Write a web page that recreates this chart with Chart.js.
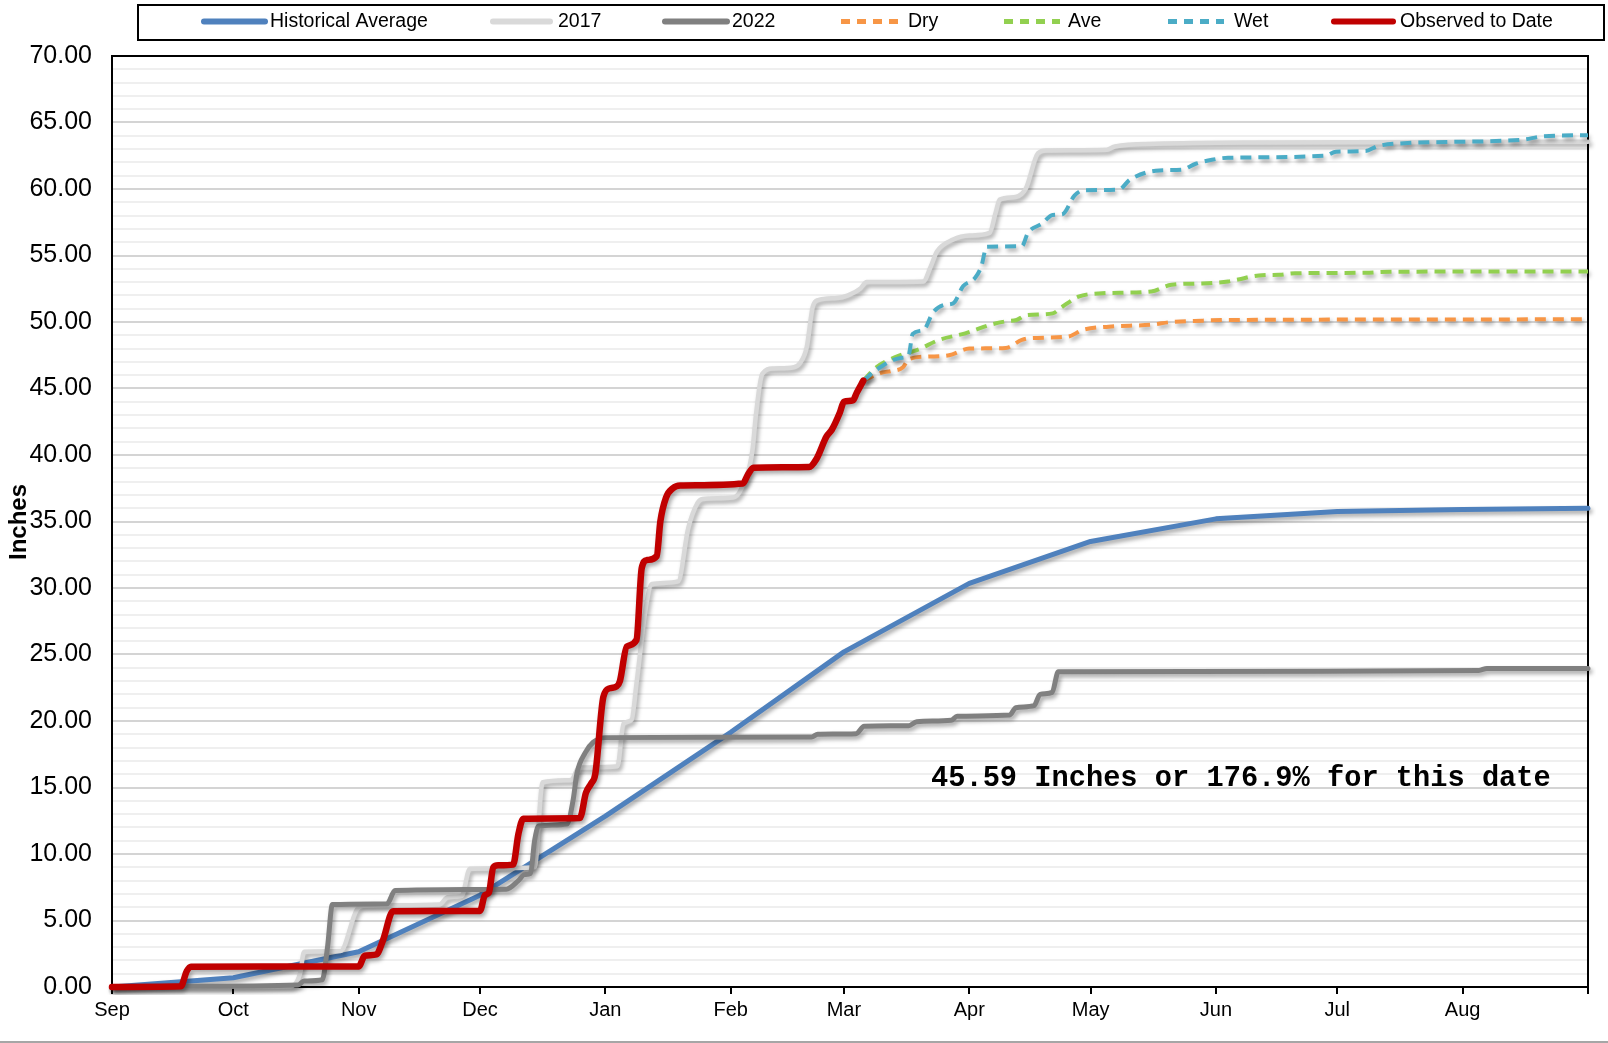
<!DOCTYPE html>
<html>
<head>
<meta charset="utf-8">
<script src="https://cdn.jsdelivr.net/npm/chart.js@4.4.1/dist/chart.umd.min.js"></script>
<style>
html,body{margin:0;padding:0;background:#fff;overflow:hidden}
canvas{display:block}
</style>
</head>
<body>
<canvas id="c" width="1608" height="1043"></canvas>
<script>
// ---- axis categories / tick labels (day of water year, Sep 1 = 0) ----
const monthStarts = [0,30,61,91,122,153,181,212,242,273,303,334,365];
const monthLabels = ['Sep','Oct','Nov','Dec','Jan','Feb','Mar','Apr','May','Jun','Jul','Aug',''];

// ---- series values: [day, cumulative inches] ----
const histAverage = [[0,0],[30,0.7],[61,2.65],[91,6.9],[122,12.85],[153,19.15],[181,25.2],[212,30.35],[242,33.5],[273,35.2],[303,35.75],[334,35.9],[365,36.0]];

const season2017 = [[0,0],[44,0.05],[46.5,1.0],[47.5,2.65],[56.5,2.7],[60.5,5.8],[62,6.1],[81,6.2],[83,6.75],[86.5,6.85],[88.5,8.9],[104.5,9.0],[106.5,15.4],[113.5,15.55],[115.5,16.5],[125,16.6],[126.5,19.8],[128.5,20.1],[129.7,22.8],[132,28.5],[133.5,30.3],[140,30.5],[142.5,34.5],[144.8,36.4],[146,36.7],[153.5,36.8],[155.5,37.4],[158.4,40.4],[159.2,42.9],[160.8,46.1],[163.5,46.5],[168.6,46.6],[170.1,46.9],[171.8,48.1],[173.3,51.15],[174.6,51.65],[179.3,51.8],[182,52.0],[185,52.5],[186.6,53.0],[200.6,53.05],[202.5,54.2],[204,55.3],[208,56.2],[212,56.5],[217,56.7],[218.5,58.2],[219.5,59.2],[223.4,59.4],[226,60.05],[229,62.7],[231,62.9],[246,62.95],[248,63.2],[258,63.4],[282,63.5],[365,63.55]];

const season2022 = [[0,0],[18,0.05],[46,0.15],[47.5,0.45],[52,0.55],[53.3,3.0],[54.5,6.2],[68,6.25],[70,7.25],[97.5,7.35],[100.5,8.0],[102,8.45],[103.5,8.55],[104.5,11.0],[105.5,12.1],[112.5,12.25],[114,14.0],[115,16.1],[117,17.6],[119,18.4],[122,18.75],[173,18.8],[174.5,19.0],[184,19.05],[186,19.6],[197,19.65],[199,19.95],[207.5,20.05],[209,20.35],[222,20.45],[223.5,21.0],[228,21.15],[229.5,22.0],[232.5,22.15],[234,23.7],[300,23.75],[338,23.8],[340,23.95],[365,23.95]];

const dryScenario = [[185.8,45.59],[190.5,46.2],[192.5,46.3],[195.6,46.6],[197,47.2],[202,47.4],[207,47.5],[212,48.0],[221,48.05],[225,48.65],[227.5,48.8],[236.4,48.9],[240,49.4],[246.5,49.65],[257,49.8],[262,50.0],[269.5,50.1],[276,50.15],[365,50.2]];

const aveScenario = [[185.8,45.59],[189,46.6],[194,47.4],[199.5,47.95],[204.5,48.65],[211,49.15],[217.3,49.8],[221,50.05],[223.7,50.15],[226,50.5],[232.6,50.65],[235,51.15],[239,51.9],[244,52.15],[257,52.3],[262,52.8],[269.5,52.9],[276,53.05],[278.5,53.2],[283.6,53.5],[288.7,53.55],[292.5,53.66],[310,53.7],[316,53.78],[365,53.8]];

const wetScenario = [[185.8,45.59],[189,46.4],[195,47.3],[197,47.5],[198,49.1],[200.7,49.4],[203,50.7],[206,51.3],[208,51.4],[210.5,52.7],[213.4,53.3],[215,54.2],[216.3,55.66],[225,55.7],[226.5,56.7],[230,57.4],[232.6,58.05],[235,58.1],[238,59.5],[240.2,59.9],[249,59.95],[251.7,60.7],[259,61.4],[264.4,61.45],[268,61.9],[272,62.2],[276,62.35],[300,62.5],[302.7,62.8],[310,62.85],[312.8,63.2],[317,63.4],[348.5,63.7],[353.6,63.95],[365,64.05]];

const observedToDate = [[0,0],[17,0.05],[18.5,1.2],[19.5,1.53],[61,1.55],[62.5,2.35],[65.4,2.45],[67,3.5],[69.5,5.7],[91,5.72],[92.2,6.9],[93.2,7.1],[94.3,9.0],[95.5,9.15],[99.2,9.2],[100.5,11.5],[101.7,12.65],[115.7,12.7],[117.2,14.6],[118.5,15.3],[119.5,16.0],[121.5,21.8],[123,22.45],[124.8,22.6],[125.6,23.0],[127.3,25.6],[129.7,26.1],[131,31.5],[132.3,32.1],[134.7,32.4],[135.6,35.0],[137,36.8],[138.7,37.5],[140.5,37.7],[156,37.85],[157.2,38.5],[158.6,39.05],[172.4,39.1],[174.2,39.7],[176.7,41.4],[178,41.9],[180,43.2],[181,44.0],[183.2,44.1],[184.2,44.7],[185.8,45.59]];

const totalToDate = '45.59';
const percentOfAverage = '176.9';

// ---- build chart ----
const pts = arr => arr.map(p => ({x: p[0], y: p[1]}));
const FONT = "'Liberation Sans', Arial, sans-serif";

function ds(label, data, color, width, order, dash, mono) {
  return {
    label, data: pts(data), borderColor: color, backgroundColor: color,
    borderWidth: width, order, borderDash: dash || [],
    pointRadius: 0, pointHoverRadius: 0, fill: false,
    cubicInterpolationMode: mono ? 'monotone' : 'default', tension: 0,
    borderJoinStyle: 'round', borderCapStyle: dash ? 'butt' : 'round',
    clip: 8
  };
}

const datasets = [
  ds('Historical Average', histAverage, '#4f81bd', 5, 6, null, false),
  ds('2017', season2017, '#d9d9d9', 4.5, 5, null, true),
  ds('2022', season2022, '#808080', 5, 4, null, true),
  ds('Dry', dryScenario, '#f79646', 4, 3, [11, 7], true),
  ds('Ave', aveScenario, '#92d050', 4, 2, [11, 7], true),
  ds('Wet', wetScenario, '#4bacc6', 4, 1, [11, 7], true),
  ds('Observed to Date', observedToDate, '#c00000', 6.5, 0, null, true)
];

// layout of custom legend (pixel positions)
const legendLayout = [[201,268,270],[490,553,558],[662,730,732],[838,902,908],[1001,1063,1068],[1165,1227,1234],[1331,1396,1400]];

const shadowPlugin = {
  id: 'shadow',
  beforeDatasetDraw(chart) {
    const c = chart.ctx; c.save();
    c.shadowColor = 'rgba(0,0,0,0.35)'; c.shadowBlur = 4;
    c.shadowOffsetX = 2; c.shadowOffsetY = 3;
  },
  afterDatasetDraw(chart) { chart.ctx.restore(); }
};

const framePlugin = {
  id: 'frame',
  beforeDatasetsDraw(chart) {
    const {ctx, chartArea: a} = chart;
    ctx.save(); ctx.strokeStyle = '#000'; ctx.lineWidth = 2;
    ctx.strokeRect(a.left, a.top, a.right - a.left, a.bottom - a.top);
    ctx.restore();
  },
  afterDraw(chart) {
    const ctx = chart.ctx;
    ctx.save();
    // legend box
    ctx.strokeStyle = '#000'; ctx.lineWidth = 2;
    ctx.strokeRect(138, 5, 1466, 35);
    ctx.font = '19.5px ' + FONT; ctx.textBaseline = 'middle'; ctx.fillStyle = '#000';
    chart.data.datasets.forEach((d, i) => {
      const [x0, x1, tx] = legendLayout[i];
      ctx.beginPath();
      ctx.strokeStyle = d.borderColor;
      if (d.borderDash.length) { ctx.setLineDash([9, 7]); ctx.lineWidth = 5; ctx.lineCap = 'butt'; }
      else { ctx.setLineDash([]); ctx.lineWidth = 6; ctx.lineCap = 'round'; }
      ctx.moveTo(x0 + 3, 21.5); ctx.lineTo(x1 - 3, 21.5); ctx.stroke();
      ctx.fillText(d.label, tx, 22);
    });
    ctx.setLineDash([]);
    // y title
    ctx.save();
    ctx.translate(19, 522); ctx.rotate(-Math.PI / 2);
    ctx.font = 'bold 24px ' + FONT; ctx.textAlign = 'center'; ctx.textBaseline = 'middle';
    ctx.fillText('Inches', 0, 0);
    ctx.restore();
    // annotation
    ctx.font = "bold 28.7px 'Liberation Mono', 'Courier New', monospace";
    ctx.textAlign = 'left'; ctx.textBaseline = 'middle'; ctx.fillStyle = '#000';
    ctx.fillText(totalToDate + ' Inches or ' + percentOfAverage + '% for this date', 931, 779);
    // bottom frame line
    ctx.fillStyle = '#a6a6a6'; ctx.fillRect(0, 1041, 1608, 2);
    ctx.restore();
  }
};

new Chart(document.getElementById('c'), {
  type: 'line',
  data: {datasets},
  options: {
    responsive: false, animation: false, devicePixelRatio: 1,
    layout: {padding: {left: 0, top: 56, right: 20, bottom: 0}},
    plugins: {legend: {display: false}, tooltip: {enabled: false}},
    scales: {
      x: {
        type: 'linear', min: 0, max: 365,
        afterBuildTicks: s => { s.ticks = monthStarts.map(v => ({value: v})); },
        afterFit: s => { s.height = 56; },
        grid: {drawOnChartArea: false, drawTicks: true, tickLength: 7, color: '#000', lineWidth: 2},
        border: {display: true, color: '#000', width: 2},
        ticks: {autoSkip: false, maxRotation: 0, padding: 4, color: '#000',
          font: {family: FONT, size: 20},
          callback: v => { const i = monthStarts.indexOf(v); return i >= 0 ? monthLabels[i] : ''; }}
      },
      y: {
        min: 0, max: 70,
        afterFit: s => { s.width = 112; },
        grid: {drawTicks: false, lineWidth: 2,
          color: c => (c.tick && Math.round(c.tick.value) % 5 === 0) ? '#d4d4d4' : '#efefef'},
        border: {display: true, color: '#000', width: 2},
        ticks: {stepSize: 1, autoSkip: false, maxTicksLimit: 100, padding: 20, color: '#000',
          font: {family: FONT, size: 25},
          callback: v => (Math.round(v) % 5 === 0) ? Number(v).toFixed(2) : ''}
      }
    }
  },
  plugins: [shadowPlugin, framePlugin]
});
</script>
</body>
</html>
